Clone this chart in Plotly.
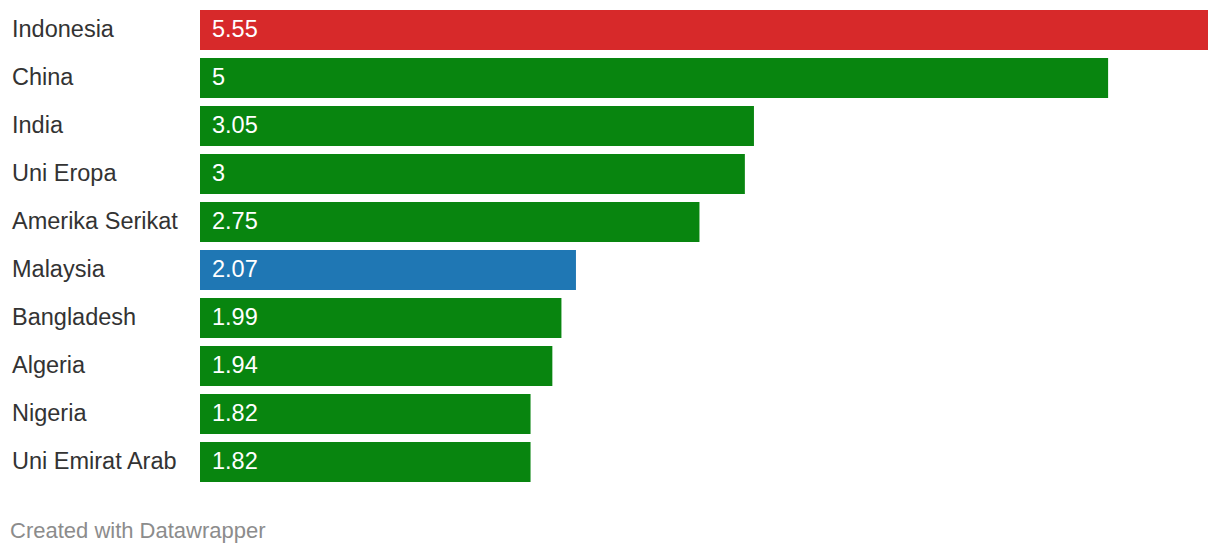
import plotly.graph_objects as go

countries = ["Indonesia", "China", "India", "Uni Eropa", "Amerika Serikat",
             "Malaysia", "Bangladesh", "Algeria", "Nigeria", "Uni Emirat Arab"]
values = [5.55, 5, 3.05, 3, 2.75, 2.07, 1.99, 1.94, 1.82, 1.82]
value_labels = ["5.55", "5", "3.05", "3", "2.75", "2.07", "1.99", "1.94", "1.82", "1.82"]

RED = "#d7292a"
GREEN = "#08850f"
BLUE = "#1f77b4"
colors = [RED if c == "Indonesia" else BLUE if c == "Malaysia" else GREEN for c in countries]

FONT = "Liberation Sans, Arial, Helvetica, sans-serif"
W, H = 1220, 554
L, R, T, B = 200, 12, 6, 68
plot_w = W - L - R
plot_h = H - T - B

fig = go.Figure(go.Bar(
    x=values, y=countries, orientation="h",
    marker=dict(color=colors, line=dict(width=0)),
    hoverinfo="skip",
))

annotations = []
for c, lab in zip(countries, value_labels):
    annotations.append(dict(
        x=0, y=c, xref="x", yref="y", text=lab, showarrow=False,
        xanchor="left", yanchor="middle", xshift=10, yshift=1,
        font=dict(family=FONT, size=23.5, color="white"),
    ))
    annotations.append(dict(
        x=-(L - 12) / plot_w, y=c, xref="paper", yref="y", text=c, showarrow=False,
        xanchor="left", yanchor="middle", xshift=-2, yshift=1,
        font=dict(family=FONT, size=23.5, color="#333333"),
    ))
annotations.append(dict(
    x=-(L - 10) / plot_w, y=-(530 - (H - B)) / plot_h, xref="paper", yref="paper",
    text="Created with Datawrapper", showarrow=False, xanchor="left", yanchor="middle",
    xshift=-2,
    font=dict(family=FONT, size=22, color="#8c8c8c"),
))

fig.update_layout(
    width=W, height=H,
    margin=dict(l=L, r=R, t=T, b=B, pad=0),
    paper_bgcolor="white", plot_bgcolor="white",
    bargap=8 / 48,
    showlegend=False,
    xaxis=dict(range=[0, 5.55], visible=False, fixedrange=True),
    yaxis=dict(autorange="reversed", showticklabels=False, showgrid=False,
               zeroline=False, fixedrange=True),
    annotations=annotations,
)

fig.write_html("out.html", config={"displayModeBar": False},
               post_script="document.body.style.margin='0';document.body.style.padding='0';")
